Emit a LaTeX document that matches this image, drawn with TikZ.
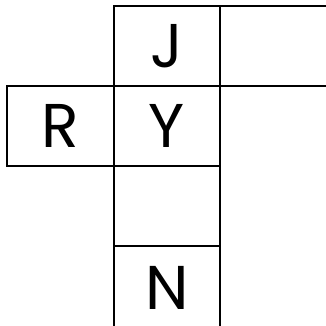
\documentclass[tikz,border=0pt]{standalone}
\usepackage{fontspec}
\setmainfont{Poppins}
\begin{document}
\begin{tikzpicture}[x=1bp, y=1bp,
    cell/.style={draw, line width=2bp, minimum width=106bp, minimum height=80bp,
                 inner sep=0pt, outer sep=0pt, font=\fontsize{62}{62}\selectfont}]
    \useasboundingbox (0, 0) rectangle (326, 326);
    % top row
    \node[cell] (j) at (167, 280) {J};
    \node[cell, minimum width=110bp] (rt) at (275, 280) {};
    % middle row
    \node[cell, minimum width=107bp] (r) at (60.5, 200) {R};
    \node[cell] (y) at (167, 200) {Y};
    % lower cells
    \node[cell] (e) at (167, 120) {};
    \node[cell, minimum height=84bp] (n) at (167, 38) {N};
\end{tikzpicture}
\end{document}
